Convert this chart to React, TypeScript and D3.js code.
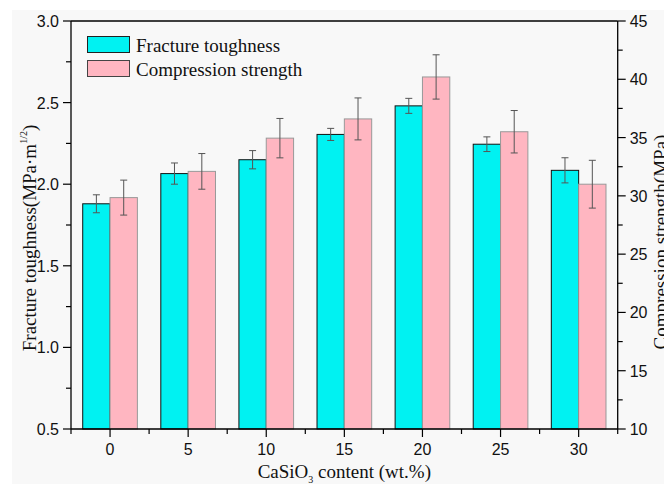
import React from "react";
import * as d3 from "d3";

// CaSiO3 content (wt.%)
const contents = [0, 5, 10, 15, 20, 25, 30];
// fracture toughness, MPa·m^1/2 (left axis)
const toughness = [1.88, 2.065, 2.15, 2.305, 2.48, 2.245, 2.085];
const toughnessErr = [0.055, 0.065, 0.056, 0.037, 0.046, 0.045, 0.077];
// compression strength, MPa (right axis)
const strength = [29.85, 32.1, 34.95, 36.6, 40.2, 35.5, 31.0];
const strengthErr = [1.5, 1.53, 1.69, 1.8, 1.9, 1.82, 2.05];

const leftTicks = [0.5, 1.0, 1.5, 2.0, 2.5, 3.0];
const rightTicks = [10, 15, 20, 25, 30, 35, 40, 45];
const xTicks = [0, 5, 10, 15, 20, 25, 30];

const W = 664;
const H = 484;
const margin = { top: 21, right: 46.3, bottom: 55, left: 71 };

const CYAN = "#00f2f2";
const PINK = "#ffb6c1";
const SERIF = "'Liberation Serif', 'Times New Roman', serif";
const SANS = "'Liberation Sans', Arial, sans-serif";

const BAR_W = 1.75; // in x units

export default function App() {
  const x0 = margin.left;
  const x1 = W - margin.right;
  const y0 = H - margin.bottom - 0; // bottom of plot
  const yTop = margin.top;

  const x = d3.scaleLinear().domain([-2.5, 32.5]).range([x0, x1]);
  const yL = d3.scaleLinear().domain([0.5, 3.0]).range([429, yTop]);
  const yR = d3.scaleLinear().domain([10, 45]).range([429, yTop]);
  const bottom = 429;

  const minorX = d3.range(-2.5, 33, 5);
  const minorL = d3.range(0.75, 3.0, 0.5);
  const minorR = d3.range(12.5, 45, 5);

  const cap = 3.5;

  return (
    <svg
      width={W}
      height={H}
      style={{ position: "absolute", left: 0, top: 0, background: "#fff" }}
    >
      <rect x={12} y={10} width={W - 12} height={H - 10} fill="#f8f8f8" />

      {/* bars */}
      {contents.map((c, i) => (
        <g key={"b" + c}>
          <rect
            x={x(c - BAR_W)}
            y={yL(toughness[i])}
            width={x(c) - x(c - BAR_W)}
            height={bottom - yL(toughness[i])}
            fill={CYAN}
            stroke="#111"
            strokeWidth={1}
          />
          <rect
            x={x(c)}
            y={yR(strength[i])}
            width={x(c + BAR_W) - x(c)}
            height={bottom - yR(strength[i])}
            fill={PINK}
            stroke="#999"
            strokeWidth={1}
          />
        </g>
      ))}

      {/* error bars */}
      {contents.map((c, i) => {
        const cx1 = x(c - BAR_W / 2);
        const cx2 = x(c + BAR_W / 2);
        const t1 = yL(toughness[i] + toughnessErr[i]);
        const t2 = yL(toughness[i] - toughnessErr[i]);
        const s1 = yR(strength[i] + strengthErr[i]);
        const s2 = yR(strength[i] - strengthErr[i]);
        return (
          <g key={"e" + c} stroke="#555" strokeWidth={1}>
            <line x1={cx1} x2={cx1} y1={t1} y2={t2} />
            <line x1={cx1 - cap} x2={cx1 + cap} y1={t1} y2={t1} />
            <line x1={cx1 - cap} x2={cx1 + cap} y1={t2} y2={t2} />
            <line x1={cx2} x2={cx2} y1={s1} y2={s2} />
            <line x1={cx2 - cap} x2={cx2 + cap} y1={s1} y2={s1} />
            <line x1={cx2 - cap} x2={cx2 + cap} y1={s2} y2={s2} />
          </g>
        );
      })}

      {/* frame */}
      <g stroke="#000" strokeWidth={1.3} fill="none">
        <line x1={x0} x2={x0} y1={yTop} y2={bottom} />
        <line x1={x1} x2={x1} y1={yTop} y2={bottom} />
        <line x1={x0} x2={x1} y1={yTop} y2={yTop} />
        <line x1={x0} x2={x1} y1={bottom} y2={bottom} />
      </g>

      {/* x ticks */}
      <g stroke="#000" strokeWidth={1.2}>
        {xTicks.map((t) => (
          <line key={"xt" + t} x1={x(t)} x2={x(t)} y1={bottom} y2={bottom + 8} />
        ))}
        {minorX.map((t) => (
          <line key={"xm" + t} x1={x(t)} x2={x(t)} y1={bottom} y2={bottom + 5} />
        ))}
        {leftTicks.map((t) => (
          <line key={"lt" + t} x1={x0 - 8} x2={x0} y1={yL(t)} y2={yL(t)} />
        ))}
        {minorL.map((t) => (
          <line key={"lm" + t} x1={x0 - 5} x2={x0} y1={yL(t)} y2={yL(t)} />
        ))}
        {rightTicks.map((t) => (
          <line key={"rt" + t} x1={x1} x2={x1 + 8} y1={yR(t)} y2={yR(t)} />
        ))}
        {minorR.map((t) => (
          <line key={"rm" + t} x1={x1} x2={x1 + 5} y1={yR(t)} y2={yR(t)} />
        ))}
      </g>

      {/* tick labels */}
      <g fontFamily={SANS} fontSize={16} fill="#111">
        {xTicks.map((t) => (
          <text key={"xl" + t} x={x(t)} y={455} textAnchor="middle">
            {t}
          </text>
        ))}
        {leftTicks.map((t) => (
          <text key={"ll" + t} x={x0 - 12} y={yL(t) + 6} textAnchor="end">
            {d3.format(".1f")(t)}
          </text>
        ))}
        {rightTicks.map((t) => (
          <text key={"rl" + t} x={x1 + 12} y={yR(t) + 6} textAnchor="start">
            {t}
          </text>
        ))}
      </g>

      {/* axis titles */}
      <g fontFamily={SERIF} fontSize={19} fill="#111">
        <text x={(x0 + x1) / 2} y={478} textAnchor="middle">
          CaSiO
          <tspan fontSize={10} dy={5}>3</tspan>
          <tspan dy={-5}> content (wt.%)</tspan>
        </text>
        <text transform={`translate(36,238) rotate(-90)`} textAnchor="middle">
          Fracture toughness(MPa·m
          <tspan fontSize={10} dy={-9}>1/2</tspan>
          <tspan dy={9}>)</tspan>
        </text>
        <text transform={`translate(667,242) rotate(-90)`} textAnchor="middle">
          Compression strength(MPa)
        </text>
      </g>

      {/* legend */}
      <g>
        <rect x={87.5} y={36.5} width={42} height={16} fill={CYAN} stroke="#222" strokeWidth={1} />
        <rect x={87.5} y={60.5} width={42} height={16} fill={PINK} stroke="#444" strokeWidth={1} />
        <text x={136} y={52} fontFamily={SERIF} fontSize={19} fill="#111">
          Fracture toughness
        </text>
        <text x={136} y={76} fontFamily={SERIF} fontSize={19} fill="#111">
          Compression strength
        </text>
      </g>
    </svg>
  );
}
